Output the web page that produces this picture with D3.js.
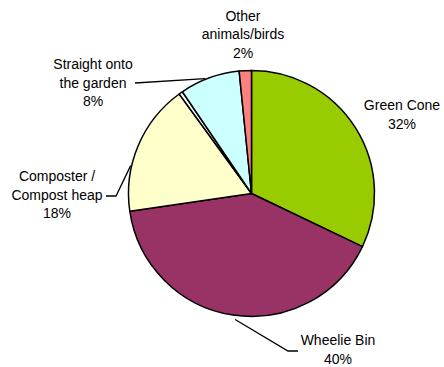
<!DOCTYPE html>
<html>
<head>
<meta charset="utf-8">
<script src="https://cdn.jsdelivr.net/npm/d3@7"></script>
<style>
  html, body { margin: 0; padding: 0; background: #fff; }
  svg { display: block; }
  text { font-family: "Liberation Sans", Arial, sans-serif; font-size: 14px; fill: #000; }
</style>
</head>
<body>
<svg id="chart" width="444" height="367"></svg>
<script>
// ---- data ----
const categories = ["Green Cone", "Wheelie Bin", "Composter / Compost heap", "Other", "Straight onto the garden", "Other animals/birds"];
const values = [32.1, 40.6, 17.3, 0.5, 7.9, 1.6];
const percentLabels = ["32%", "40%", "18%", "", "8%", "2%"];
const labelLines = [["Green Cone"], ["Wheelie Bin"], ["Composter /", "Compost heap"], [], ["Straight onto", "the garden"], ["Other", "animals/birds"]];
const colors = ["#99CC00", "#993366", "#FFFFCC", "#FFFFFF", "#CCFFFF", "#FF8080"];

// ---- layout ----
const W = 444, H = 367;
const cx = 251.5, cy = 193.5, R = 123;
const lineH = 18.5;
// label anchors: text centre x, first baseline y, leader (angle in degrees on rim, elbow, end)
const labelLayout = [
  { x: 402, y: 110 },
  { x: 338, y: 345, leader: { deg: 187.4, off: 4, elbow: [288, 351], end: [298, 351] } },
  { x: 57, y: 181, leader: { deg: 283, off: 1, elbow: [116, 196], end: [106, 196] } },
  null,
  { x: 93, y: 69, leader: { deg: 338, off: 1, elbow: null, end: [135, 83] } },
  { x: 243, y: 20.5 }
];

const svg = d3.select("#chart");
const g = svg.append("g").attr("transform", `translate(${cx},${cy})`);

const pie = d3.pie().sort(null).value(d => d)(values);
const arc = d3.arc().innerRadius(0).outerRadius(R);

g.selectAll("path.slice")
  .data(pie)
  .join("path")
  .attr("class", "slice")
  .attr("d", arc)
  .attr("fill", (d, i) => colors[i])
  .attr("stroke", "#000")
  .attr("stroke-width", 1.5)
  .attr("stroke-linejoin", "round");

// leaders
const line = d3.line();
labelLayout.forEach((L, i) => {
  if (!L || !L.leader) return;
  const a = L.leader.deg * Math.PI / 180;
  const r = R + L.leader.off;
  const p0 = [cx + r * Math.sin(a), cy - r * Math.cos(a)];
  const pts = [p0];
  if (L.leader.elbow) pts.push(L.leader.elbow);
  pts.push(L.leader.end);
  svg.append("path")
    .attr("d", line(pts))
    .attr("fill", "none")
    .attr("stroke", "#000")
    .attr("stroke-width", 1.3);
});

// labels
labelLayout.forEach((L, i) => {
  if (!L) return;
  const lines = labelLines[i].concat([percentLabels[i]]);
  const t = svg.append("text").attr("text-anchor", "middle");
  lines.forEach((s, k) => {
    t.append("tspan").attr("x", L.x).attr("y", L.y + k * lineH).text(s);
  });
});
</script>
</body>
</html>
